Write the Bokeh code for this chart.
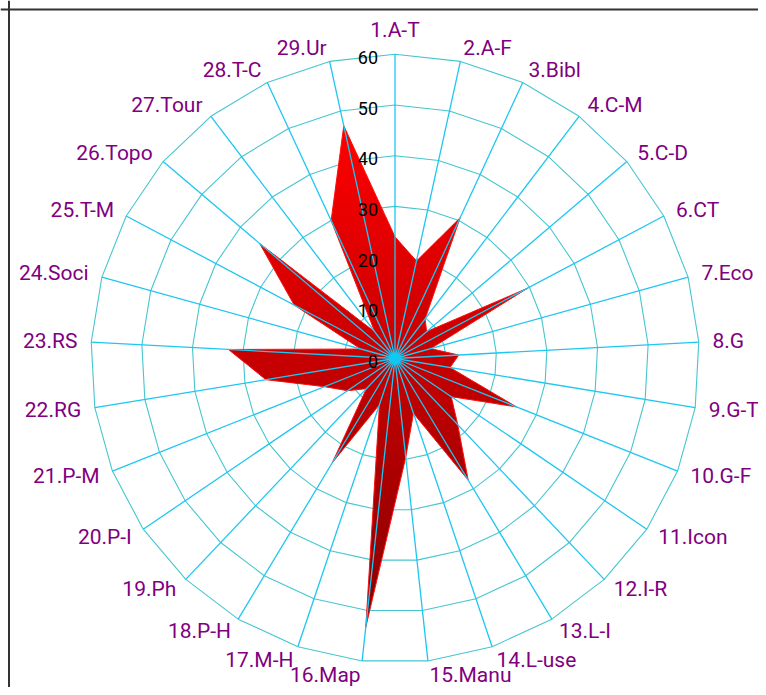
import numpy as np
from bokeh.plotting import figure
from bokeh.models import Range1d, Span
from bokeh.embed import file_html
from bokeh.resources import INLINE
from bokeh.core.properties import value

# ---------------- data ----------------
categories = ["1.A-T", "2.A-F", "3.Bibl", "4.C-M", "5.C-D", "6.CT", "7.Eco", "8.G",
              "9.G-T", "10.G-F", "11.Icon", "12.I-R", "13.L-I", "14.L-use", "15.Manu",
              "16.Map", "17.M-H", "18.P-H", "19.Ph", "20.P-I", "21.P-M", "22.RG",
              "23.RS", "24.Soci", "25.T-M", "26.Topo", "27.Tour", "28.T-C", "29.Ur"]
values = [24.0, 19.7, 30.6, 9.8, 8.2, 29.6, 7.3, 12.6, 11.0, 25.8, 13.4, 18.0, 28.0,
          11.4, 19.6, 53.3, 9.6, 24.0, 8.2, 11.3, 15.0, 25.8, 32.9, 7.0, 22.5, 35.0,
          6.6, 30.0, 47.0]
tick_values = [0, 10, 20, 30, 40, 50, 60]
tick_labels = ["0", "10", "20", "30", "40", "50", "60"]

# ---------------- layout ----------------
W, H = 758, 687
PX = 5.07                 # pixels per unit
CX, CY = 394.5, 358.0     # centre in canvas pixels
RMAX = 60
LABEL_R = 318 / PX
TOP_LABEL_R = 329 / PX

p = figure(width=W, height=H, output_backend="svg", toolbar_location=None,
           x_range=Range1d(-CX / PX, (W - CX) / PX),
           y_range=Range1d(-(H - CY) / PX, CY / PX),
           min_border=0, outline_line_color=None)
p.axis.visible = False
p.grid.visible = False
p.background_fill_color = "white"

n = len(categories)
ang = np.arange(n) * 2 * np.pi / n
sx, sy = np.sin(ang), np.cos(ang)

# rings
ring_col = "#45c6cf"
rx, ry = [], []
for t in tick_values[1:]:
    rx.append(list(np.append(t * sx, t * sx[0])))
    ry.append(list(np.append(t * sy, t * sy[0])))
p.multi_line(rx, ry, line_color=ring_col, line_width=1.1)

# polygon with vertical gradient (drawn as horizontal bands)
v = np.array(values)
px_ = v * sx
py_ = v * sy
poly = list(zip(px_, py_))


def clip(pts, y0, keep_above):
    out = []
    m = len(pts)
    for i in range(m):
        P = pts[i]
        Q = pts[(i + 1) % m]
        pin = P[1] >= y0 if keep_above else P[1] <= y0
        qin = Q[1] >= y0 if keep_above else Q[1] <= y0
        if pin:
            out.append(P)
        if pin != qin:
            tt = (y0 - P[1]) / (Q[1] - P[1])
            out.append((P[0] + tt * (Q[0] - P[0]), y0))
    return out


ytop, ybot = py_.max(), py_.min()
nb = 70
edges = np.linspace(ytop, ybot, nb + 1)
c_top = np.array([255, 0, 0])
c_bot = np.array([136, 0, 0])
bx, by, bc = [], [], []
eps = 0.3
for k in range(nb):
    hi = edges[k] + (eps if k > 0 else 0)
    lo = edges[k + 1]
    piece = clip(clip(poly, hi, False), lo, True)
    if len(piece) < 3:
        continue
    f = (k + 0.5) / nb
    c = (c_top + (c_bot - c_top) * f).astype(int)
    bx.append([q[0] for q in piece])
    by.append([q[1] for q in piece])
    bc.append("#%02x%02x%02x" % tuple(c))
p.patches(bx, by, fill_color=bc, line_color=None)
p.patch(list(px_), list(py_), fill_color=None, line_color="#ff1010", line_width=1)

# spokes
p.segment(x0=np.zeros(n), y0=np.zeros(n), x1=RMAX * sx, y1=RMAX * sy,
          line_color="#1ec6f2", line_width=1.3)
p.scatter([0], [0], size=12, fill_color="#10c8f0", line_color=None)

# radial tick labels
p.text(x=[-17 / PX] * len(tick_values), y=tick_values, text=tick_labels,
       text_align="right", text_baseline="middle", y_offset=3,
       text_font=value("Roboto"), text_font_size="18px", text_color="black")

# category labels
lx, ly, aligns = [], [], []
for i in range(n):
    if abs(sx[i]) < 0.01:
        aligns.append("center")
        r = TOP_LABEL_R if sy[i] > 0 else LABEL_R
    elif sx[i] > 0:
        aligns.append("left")
        r = LABEL_R
    else:
        aligns.append("right")
        r = LABEL_R
    lx.append(r * sx[i])
    ly.append(r * sy[i])
for al in ("left", "right", "center"):
    idx = [i for i in range(n) if aligns[i] == al]
    if not idx:
        continue
    p.text(x=[lx[i] for i in idx], y=[ly[i] for i in idx],
           text=[categories[i] for i in idx],
           text_align=al, text_baseline="middle",
           text_font=value("Roboto"), text_font_size="21px", text_color="#800080")

# left / top frame lines
p.add_layout(Span(location=(8.5 - CX) / PX, dimension="height", line_color="#333333", line_width=2))
p.add_layout(Span(location=(CY - 9) / PX, dimension="width", line_color="#333333", line_width=2))

open("out.html", "w").write(file_html(p, INLINE))
